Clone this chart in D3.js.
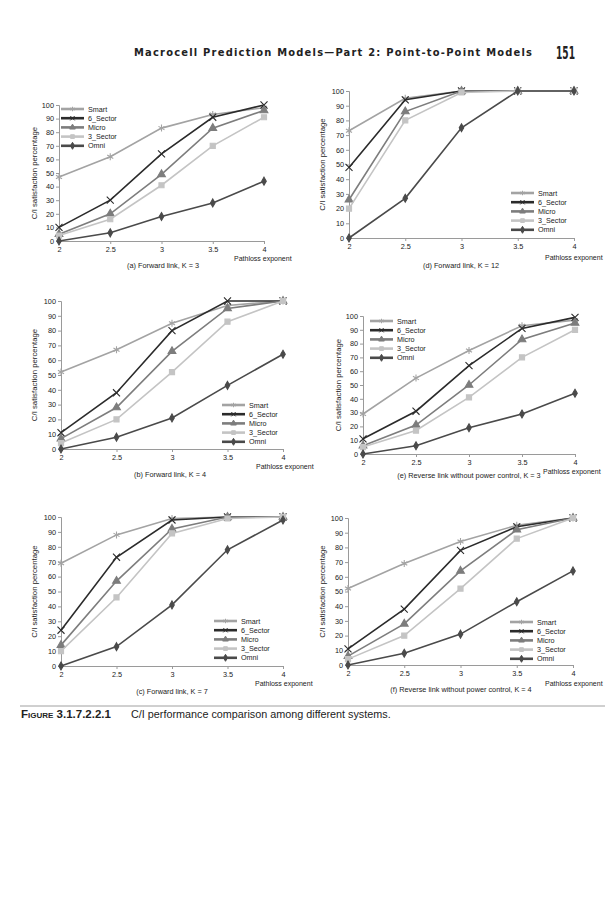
<!DOCTYPE html>
<html>
<head>
<meta charset="utf-8">
<script src="https://cdn.jsdelivr.net/npm/d3@7"></script>
<style>
  body { margin: 0; background: #fff; }
  svg { display: block; }
  text { font-family: "Liberation Sans", Arial, sans-serif; fill: #222; }
</style>
</head>
<body>
<svg width="613" height="900"></svg>
<script>
// pathloss exponent on the x axis
const xs = [2, 2.5, 3, 3.5, 4];
const yTicks = [0, 10, 20, 30, 40, 50, 60, 70, 80, 90, 100];
const series = ["Smart", "6_Sector", "Micro", "3_Sector", "Omni"];

// values per panel, in the order of `series`
const fwdK3 = [
  [47, 62, 83, 93, 98],
  [10, 30, 64, 91, 100],
  [5, 20, 49, 83, 96],
  [4, 16, 41, 70, 91],
  [0, 6, 18, 28, 44]
];
const fwdK12 = [
  [73, 95, 100, 100, 100],
  [48, 94, 100, 100, 100],
  [26, 86, 100, 100, 100],
  [20, 80, 99, 100, 100],
  [0, 27, 75, 100, 100]
];
const fwdK4 = [
  [52, 67, 85, 97, 100],
  [11, 38, 80, 100, 100],
  [7, 28, 66, 95, 100],
  [4, 20, 52, 86, 100],
  [0, 8, 21, 43, 64]
];
const revK3 = [
  [29, 55, 75, 93, 97],
  [11, 31, 64, 91, 99],
  [6, 21, 50, 83, 95],
  [5, 17, 41, 70, 90],
  [0, 6, 19, 29, 44]
];
const fwdK7 = [
  [69, 88, 99, 100, 100],
  [24, 73, 98, 100, 100],
  [14, 57, 92, 100, 100],
  [10, 46, 89, 99, 100],
  [0, 13, 41, 78, 98]
];
const revK4 = [
  [52, 69, 84, 95, 100],
  [11, 38, 78, 94, 100],
  [6, 28, 64, 92, 100],
  [4, 20, 52, 86, 100],
  [0, 8, 21, 43, 64]
];

const colors = { "Smart": "#a3a3a3", "6_Sector": "#2b2b2b", "Micro": "#7d7d7d", "3_Sector": "#c4c4c4", "Omni": "#4a4a4a" };
const symbols = { "Smart": d3.symbolAsterisk, "6_Sector": d3.symbolX, "Micro": d3.symbolTriangle, "3_Sector": d3.symbolSquare, "Omni": d3.symbolDiamond };
const filled = { "Smart": false, "6_Sector": false, "Micro": true, "3_Sector": true, "Omni": true };
const symSize = { "Smart": 34, "6_Sector": 34, "Micro": 26, "3_Sector": 26, "Omni": 18 };

// panel layout
const panels = [
  { data: fwdK3,  x0: 59,  x1: 264, top: 105, bot: 241, yl: 37,  lx: 61,  ly: 109, cap: "(a) Forward link, K = 3", cx: 163, cy: 268, px: 234, py: 261 },
  { data: fwdK12, x0: 349, x1: 574, top: 91,  bot: 238, yl: 325, lx: 511, ly: 193, cap: "(d) Forward link, K = 12", cx: 461, cy: 268, px: 545, py: 260 },
  { data: fwdK4,  x0: 61,  x1: 283, top: 301, bot: 449, yl: 37,  lx: 222, ly: 405, cap: "(b) Forward link, K = 4", cx: 170, cy: 477, px: 256, py: 469 },
  { data: revK3,  x0: 363, x1: 575, top: 316, bot: 454, yl: 341, lx: 370, ly: 321, cap: "(e) Reverse link without power control, K = 3", cx: 469, cy: 478, px: 543, py: 474 },
  { data: fwdK7,  x0: 61,  x1: 283, top: 517, bot: 666, yl: 37,  lx: 214, ly: 621, cap: "(c) Forward link, K = 7", cx: 172, cy: 694, px: 255, py: 686 },
  { data: revK4,  x0: 348, x1: 573, top: 518, bot: 665, yl: 325, lx: 510, ly: 622, cap: "(f) Reverse link without power control, K = 4", cx: 461, cy: 692, px: 545, py: 686 }
];

const svg = d3.select("svg");

// running header
svg.append("text")
  .attr("x", 134).attr("y", 56)
  .attr("textLength", 398).attr("lengthAdjust", "spacing")
  .style("font-family", "'DejaVu Sans Condensed', 'Liberation Sans Narrow', sans-serif")
  .style("font-weight", "bold").style("font-size", "11px")
  .text("Macrocell Prediction Models\u2014Part 2: Point-to-Point Models");
svg.append("text")
  .attr("x", 556).attr("y", 59)
  .attr("textLength", 19).attr("lengthAdjust", "spacingAndGlyphs")
  .style("font-family", "'DejaVu Sans Condensed', sans-serif")
  .style("font-weight", "bold").style("font-size", "17px")
  .text("151");

panels.forEach(p => {
  const g = svg.append("g");
  const x = d3.scaleLinear().domain([2, 4]).range([p.x0, p.x1]);
  const y = d3.scaleLinear().domain([0, 100]).range([p.bot, p.top]);

  const yAxis = g.append("g")
    .attr("transform", `translate(${p.x0},0)`)
    .call(d3.axisLeft(y).tickValues(yTicks).tickSize(3).tickPadding(2));
  const xAxis = g.append("g")
    .attr("transform", `translate(0,${p.bot})`)
    .call(d3.axisBottom(x).tickValues(xs).tickSize(3).tickPadding(3).tickFormat(d3.format("")));
  [yAxis, xAxis].forEach(a => {
    a.select(".domain").attr("stroke", "#9a9a9a");
    a.selectAll(".tick line").attr("stroke", "#9a9a9a");
    a.selectAll("text").style("font-size", "7.3px").attr("fill", "#333");
  });

  g.append("text")
    .attr("transform", `translate(${p.yl},${(p.top + p.bot) / 2}) rotate(-90)`)
    .attr("text-anchor", "middle")
    .style("font-size", "7.8px")
    .text("C/I satisfaction percentage");

  g.append("text").attr("x", p.px).attr("y", p.py)
    .style("font-size", "7px").text("Pathloss exponent");
  g.append("text").attr("x", p.cx).attr("y", p.cy)
    .attr("text-anchor", "middle").style("font-size", "7.3px").text(p.cap);

  const line = d3.line().x((d, i) => x(xs[i])).y(d => y(d));

  series.forEach((s, si) => {
    const vals = p.data[si];
    g.append("path")
      .datum(vals)
      .attr("fill", "none")
      .attr("stroke", colors[s])
      .attr("stroke-width", 1.6)
      .attr("d", line);
    g.selectAll(null)
      .data(vals)
      .enter().append("path")
      .attr("transform", (d, i) => `translate(${x(xs[i])},${y(d)})`)
      .attr("d", d3.symbol().type(symbols[s]).size(symSize[s]))
      .attr("fill", filled[s] ? colors[s] : "none")
      .attr("stroke", colors[s])
      .attr("stroke-width", 1.1);
  });

  // legend
  const lw = 23;
  const lg = g.append("g").attr("transform", `translate(${p.lx},${p.ly})`);
  series.forEach((s, si) => {
    const row = lg.append("g").attr("transform", `translate(0,${si * 9.2})`);
    row.append("line")
      .attr("x1", 0).attr("x2", lw)
      .attr("stroke", colors[s]).attr("stroke-width", 2.6);
    row.append("path")
      .attr("transform", `translate(${lw / 2},0)`)
      .attr("d", d3.symbol().type(symbols[s]).size(14))
      .attr("fill", filled[s] ? colors[s] : "none")
      .attr("stroke", colors[s]).attr("stroke-width", 1);
    row.append("text")
      .attr("x", lw + 4).attr("y", 2.5)
      .style("font-size", "7.2px")
      .text(s);
  });
});

// figure caption
svg.append("line")
  .attr("x1", 20).attr("x2", 605).attr("y1", 706).attr("y2", 706)
  .attr("stroke", "#888").attr("stroke-width", 0.8);
const cap = svg.append("text").attr("x", 21).attr("y", 718).style("font-size", "10.8px");
cap.append("tspan").style("font-weight", "bold").style("font-variant", "small-caps")
  .style("font-size", "11.5px").text("Figure 3.1.7.2.2.1");
cap.append("tspan").attr("x", 131).text("C/I performance comparison among different systems.");
</script>
</body>
</html>
